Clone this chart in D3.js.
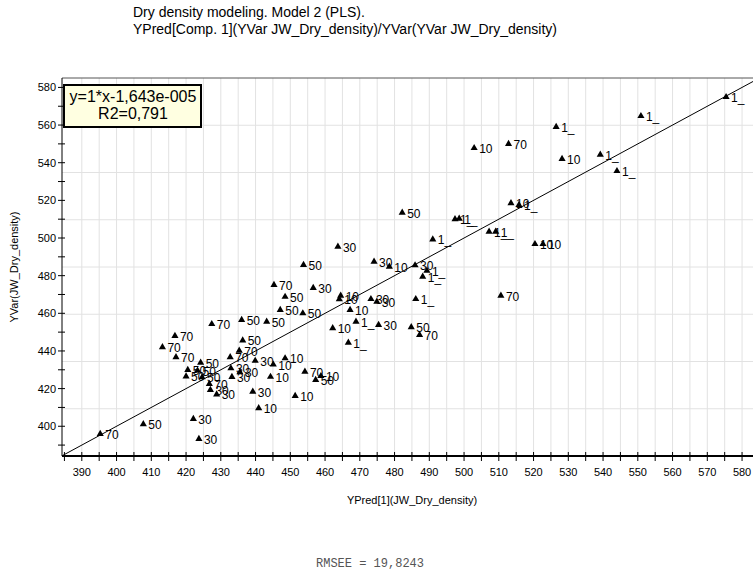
<!DOCTYPE html>
<html>
<head>
<meta charset="utf-8">
<script src="https://cdn.jsdelivr.net/npm/d3@7/dist/d3.min.js"></script>
<style>
  html, body { margin: 0; padding: 0; background: #fff; overflow: hidden; }
  svg { display: block; font-family: "Liberation Sans", Arial, sans-serif; }
</style>
</head>
<body>
<svg id="chart" width="753" height="572"></svg>
<script>
// Observations: predicted (component 1) vs. observed dry density, with sample class labels
const yPred = [
  575.4, 550.9, 526.5, 502.9, 512.8, 528.2, 539.2, 544.0,
  513.5, 515.8, 497.4, 498.6, 507.2, 509.1, 520.4, 522.7,
  510.6, 482.2, 491.0,
  463.7, 453.8, 474.1, 478.5, 485.9, 489.3, 488.1, 456.6, 464.5, 464.1,
  473.2, 474.9, 467.2, 486.1, 453.6, 468.9, 475.4, 484.8, 462.2, 487.2,
  466.7, 454.2, 457.3, 458.8, 451.4,
  395.3, 407.7, 422.1, 423.7, 416.8, 413.2, 417.1, 427.4, 436.0, 443.2,
  436.3, 435.3, 432.7,
  424.2, 420.5, 423.3, 420.0, 424.6, 426.7, 427.0, 428.8,
  432.9, 435.5, 433.2, 439.9,
  445.1, 448.5, 444.3,
  439.2, 440.9,
  445.3, 448.5, 447.1
];
const yObs = [
  574.9, 564.8, 559.0, 547.8, 550.0, 542.0, 544.3, 535.6,
  518.5, 517.6, 510.0, 510.3, 503.4, 503.4, 496.8, 496.8,
  469.4, 513.5, 499.3,
  495.4, 485.7, 487.4, 484.8, 485.5, 482.7, 479.5, 473.5, 469.4, 467.5,
  467.6, 466.2, 461.8, 467.6, 460.0, 455.6, 453.8, 452.6, 452.1, 448.5,
  444.4, 429.0, 424.6, 426.7, 416.1,
  395.9, 401.1, 403.9, 393.3, 448.0, 442.0, 436.7, 454.3, 456.5, 455.6,
  445.6, 440.2, 436.7,
  433.8, 429.9, 429.6, 426.5, 426.0, 422.5, 419.3, 416.9,
  430.8, 428.7, 426.2, 434.8,
  432.8, 436.1, 426.3,
  418.4, 409.6,
  475.1, 468.8, 461.8
];
const pointLabels = [
  "1_", "1_", "1_", "10", "70", "10", "1_", "1_",
  "10", "1_", "1_", "1_", "1_", "1_", "10", "10",
  "70", "50", "1_",
  "30", "50", "30", "10", "30", "1_", "1_", "30", "10", "10",
  "30", "30", "10", "1_", "50", "1_", "30", "50", "10", "70",
  "1_", "70", "50", "10", "10",
  "70", "50", "30", "30", "70", "70", "70", "70", "50", "50",
  "50", "70", "70",
  "50", "50", "50", "50", "50", "70", "30", "30",
  "30", "30", "30", "30",
  "10", "10", "10",
  "30", "10",
  "70", "50", "50"
];

// Axis ticks
const xMinorTicks = d3.range(385, 586, 5);
const xLabelTicks = d3.range(390, 581, 10);
const yMinorTicks = d3.range(390, 581, 10);
const yLabelTicks = d3.range(400, 581, 20);

// Fit statistics
const fitSlope = 1;
const fitIntercept = -1.643e-5;
const fitText = ["y=1*x-1,643e-005", "R2=0,791"];
const titleLines = [
  "Dry density modeling. Model 2 (PLS).",
  "YPred[Comp. 1](YVar JW_Dry_density)/YVar(YVar JW_Dry_density)"
];
const xTitle = "YPred[1](JW_Dry_density)";
const yTitle = "YVar(JW_Dry_density)";
const footer = "RMSEE = 19,8243";

const svg = d3.select("#chart");
const plotLeft = 62, plotTop = 78, plotBottom = 456;
const xDomain = [384.3, 585];
const yDomain = [384.2, 585];
const x = d3.scaleLinear().domain(xDomain).range([plotLeft, plotLeft + (xDomain[1] - xDomain[0]) * 3.475]);
const y = d3.scaleLinear().domain(yDomain).range([plotBottom, plotTop]);
const plotRight = x.range()[1];

// Title
svg.append("g").selectAll("text").data(titleLines).join("text")
  .attr("x", 133).attr("y", (d, i) => 17 + i * 17)
  .attr("font-size", 14).attr("fill", "#000")
  .text(d => d);

// Grid
const grid = svg.append("g").attr("stroke", "#e2e2e2").attr("stroke-width", 1);
grid.selectAll("line.v").data(xMinorTicks.filter(v => v > xDomain[0] + 1)).join("line")
  .attr("class", "v")
  .attr("x1", d => x(d)).attr("x2", d => x(d))
  .attr("y1", plotTop).attr("y2", plotBottom);
const hGrid = d3.range(1, 8).map(i => yDomain[0] + i * (yDomain[1] - yDomain[0]) / 8);
grid.selectAll("line.h").data(hGrid).join("line")
  .attr("class", "h")
  .attr("x1", plotLeft).attr("x2", plotRight)
  .attr("y1", d => y(d)).attr("y2", d => y(d));

// Frame: top border, left axis, bottom axis
svg.append("line").attr("x1", plotLeft).attr("x2", plotRight).attr("y1", plotTop).attr("y2", plotTop)
  .attr("stroke", "#555").attr("stroke-width", 1);
svg.append("line").attr("x1", plotLeft).attr("x2", plotLeft).attr("y1", plotTop).attr("y2", plotBottom)
  .attr("stroke", "#000").attr("stroke-width", 1);
svg.append("line").attr("x1", plotLeft).attr("x2", plotRight).attr("y1", plotBottom).attr("y2", plotBottom)
  .attr("stroke", "#000").attr("stroke-width", 2);

// X ticks
svg.append("g").selectAll("line").data(xMinorTicks).join("line")
  .attr("x1", d => x(d)).attr("x2", d => x(d))
  .attr("y1", plotBottom - 4).attr("y2", plotBottom + 5)
  .attr("stroke", "#000").attr("stroke-width", 1);
svg.append("g").selectAll("text").data(xLabelTicks).join("text")
  .attr("x", d => x(d)).attr("y", plotBottom + 20)
  .attr("text-anchor", "middle").attr("font-size", 11)
  .text(d => d);

// Y ticks
svg.append("g").selectAll("line").data(yMinorTicks).join("line")
  .attr("x1", plotLeft - 4).attr("x2", plotLeft + 3)
  .attr("y1", d => y(d)).attr("y2", d => y(d))
  .attr("stroke", "#000").attr("stroke-width", 1);
svg.append("g").selectAll("text").data(yLabelTicks).join("text")
  .attr("x", plotLeft - 6).attr("y", d => y(d) + 4)
  .attr("text-anchor", "end").attr("font-size", 11)
  .text(d => d);

// Axis titles
svg.append("text").attr("x", 412).attr("y", 504)
  .attr("text-anchor", "middle").attr("font-size", 11).text(xTitle);
svg.append("text")
  .attr("transform", `translate(18,${(plotTop + plotBottom) / 2}) rotate(-90)`)
  .attr("text-anchor", "middle").attr("font-size", 11).text(yTitle);

// Regression line
const lineEnd = xDomain[1];
svg.append("line")
  .attr("x1", x(xDomain[0])).attr("y1", y(fitSlope * xDomain[0] + fitIntercept))
  .attr("x2", x(lineEnd)).attr("y2", y(fitSlope * lineEnd + fitIntercept))
  .attr("stroke", "#000").attr("stroke-width", 1);

// Points with class labels
const pts = yPred.map((v, i) => ({ xp: v, yo: yObs[i], lab: pointLabels[i] }));
const tri = d3.symbol().type(d3.symbolTriangle).size(22);
const pg = svg.append("g");
pts.forEach(p => {
  pg.append("path").attr("d", tri())
    .attr("transform", `translate(${x(p.xp)},${y(p.yo)})`)
    .attr("fill", "#000");
  pg.append("text").attr("x", x(p.xp) + 5).attr("y", y(p.yo) + 5)
    .attr("font-size", 12).attr("fill", "#000").text(p.lab);
});

// Fit statistics box
const box = svg.append("g");
box.append("rect").attr("x", 64).attr("y", 85).attr("width", 137).attr("height", 42)
  .attr("fill", "#ffffe1").attr("stroke", "#000").attr("stroke-width", 2);
box.selectAll("text").data(fitText).join("text")
  .attr("x", 133).attr("y", (d, i) => 102 + i * 17)
  .attr("text-anchor", "middle").attr("font-size", 16)
  .text(d => d);

// Footer statistic
svg.append("text").attr("x", 370).attr("y", 567)
  .attr("text-anchor", "middle")
  .attr("font-family", "'Liberation Mono', 'Courier New', monospace")
  .attr("font-size", 12).attr("fill", "#555")
  .text(footer);
</script>
</body>
</html>
